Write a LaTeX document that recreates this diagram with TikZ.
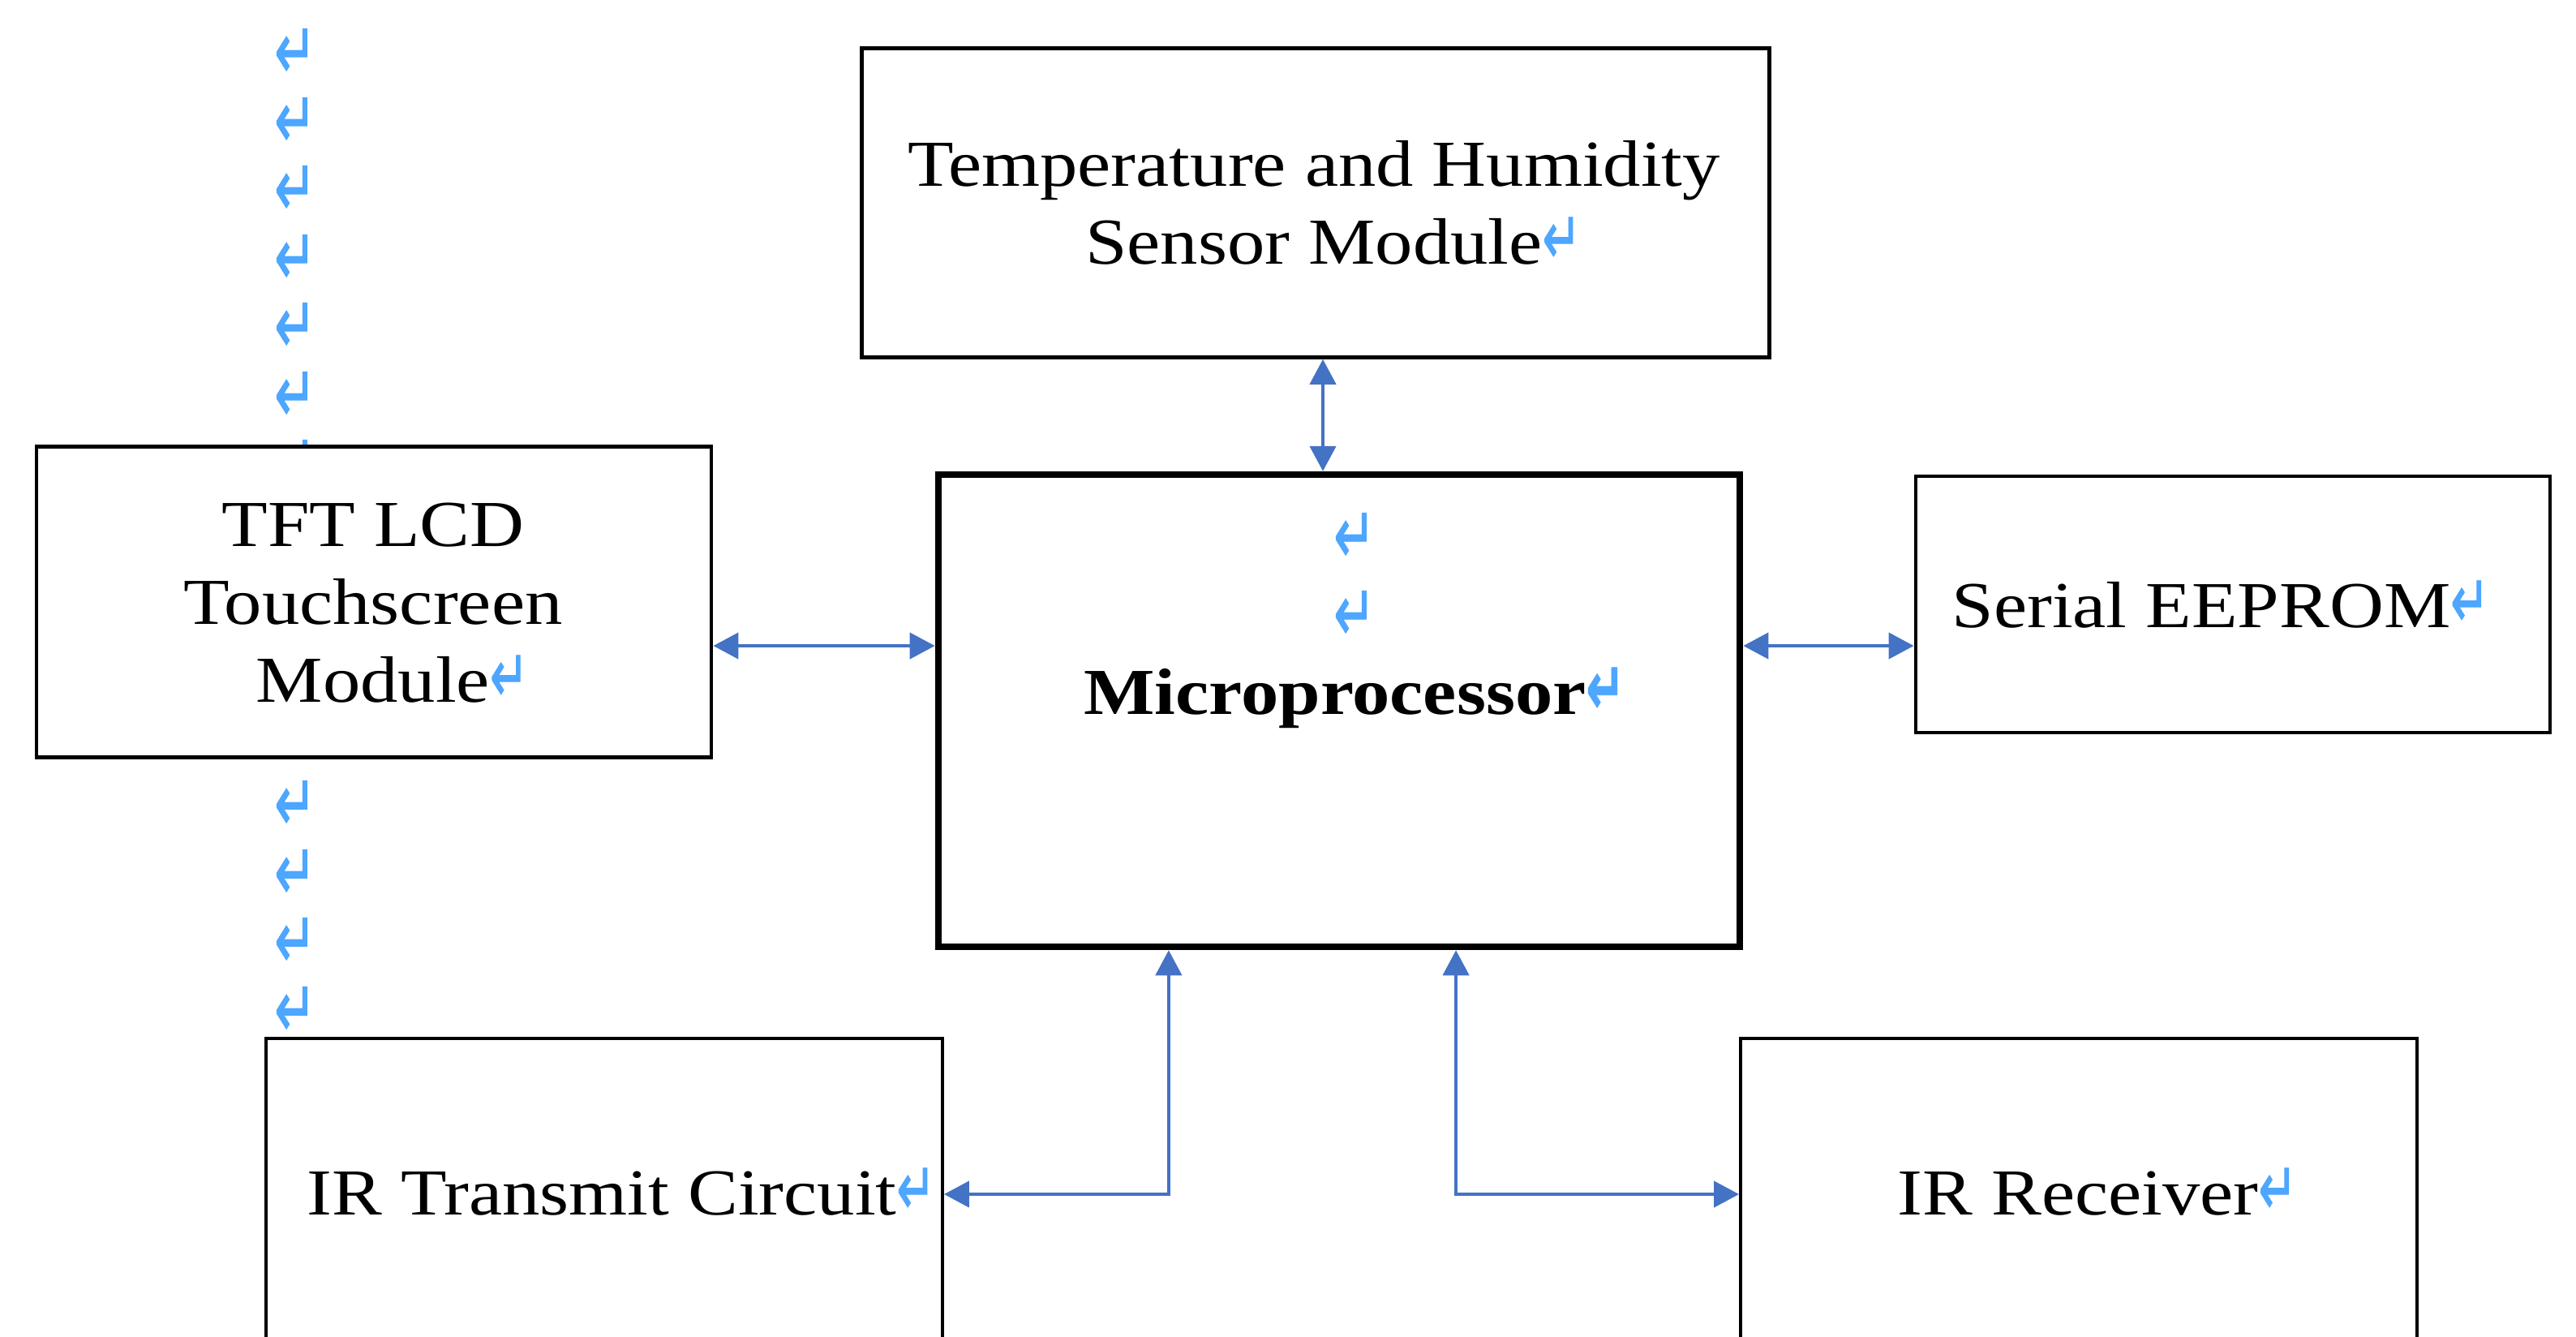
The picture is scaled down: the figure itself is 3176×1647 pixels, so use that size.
\documentclass[tikz,border=0pt]{standalone}
\usepackage{fontspec}
\setmainfont{Liberation Serif}[FakeStretch=1.145]
\newfontfamily\markfont{DejaVu Sans}[FakeStretch=0.62,FakeBold=1]
\usetikzlibrary{arrows.meta}
\definecolor{linkblue}{RGB}{68,114,196}
\definecolor{markblue}{RGB}{77,166,255}
\newcommand{\pmark}{{\markfont\color{markblue}\fontsize{26}{26}\selectfont ↵}}

\begin{document}
\begin{tikzpicture}[x=0.01cm,y=-0.01cm,
  box/.style={draw=black,fill=white,line width=1.25pt,inner sep=0pt},
  cpubox/.style={box,line width=2.3pt},
  label/.style={anchor=base,inner sep=0pt,align=center,font=\fontsize{23}{27.3}\selectfont},
  marker/.style={inner sep=0pt,text height=0.38cm,text depth=0pt,font=\markfont\color{markblue}\fontsize{28}{28}\selectfont},
  link/.style={draw=linkblue,line width=1.2pt,{Triangle[length=0.31cm,width=0.32cm]}-{Triangle[length=0.31cm,width=0.32cm]}}]
\useasboundingbox (0,0) rectangle (3176,1647);
% paragraph marks down the left
\foreach \y [count=\i] in {78,163,247,332,416,501,585,1005,1090,1174,1259}
  \node[marker] (lm\i) at (364,\y) {↵};
\node[marker] (cm1) at (1670,675) {↵};
\node[marker] (cm2) at (1670,771) {↵};
% blocks
\node[box,minimum width=11.18cm,minimum height=3.81cm] (temp) at (1622,250) {};
\node[box,minimum width=8.32cm,minimum height=3.83cm] (tft) at (461,742) {};
\node[cpubox,minimum width=9.88cm,minimum height=5.82cm,fill=none] (cpu) at (1651,876) {};
\node[box,minimum width=7.82cm,minimum height=3.16cm] (eeprom) at (2753,745) {};
\node[box,minimum width=8.33cm,minimum height=3.84cm] (irtx) at (745,1472) {};
\node[box,minimum width=8.33cm,minimum height=3.84cm] (irrx) at (2563,1472) {};
% texts (base = last line)
\node[label] (templbl) at (1620,325) {Temperature and Humidity\\Sensor Module\rlap{\pmark}};
\node[label] (tftlbl) at (460,865) {TFT LCD\\Touchscreen\\Module\rlap{\pmark}};
\node[label,font=\fontsize{23}{27.3}\selectfont\bfseries] (cpulbl) at (1646,880) {Microprocessor\rlap{\pmark}};
\node[label] (eepromlbl) at (2714,773) {Serial EEPROM\rlap{\pmark}};
\node[label] (irtxlbl) at (742,1497) {IR Transmit Circuit\rlap{\pmark}};
\node[label] (irrxlbl) at (2562,1497) {IR Receiver\rlap{\pmark}};
% links
\coordinate (sidelink) at ([yshift=-0.54cm]tft.east);
\coordinate (toplink) at ([xshift=0.09cm]temp.south);
\draw[link] (toplink) -- (toplink |- cpu.north);
\draw[link] (sidelink) -- (sidelink -| cpu.west);
\draw[link] (sidelink -| cpu.east) -- (sidelink -| eeprom.west);
\draw[link] ([xshift=-2.1cm]cpu.south) |- (irtx.east);
\draw[link] ([xshift=1.44cm]cpu.south) |- (irrx.west);
\end{tikzpicture}
\end{document}
